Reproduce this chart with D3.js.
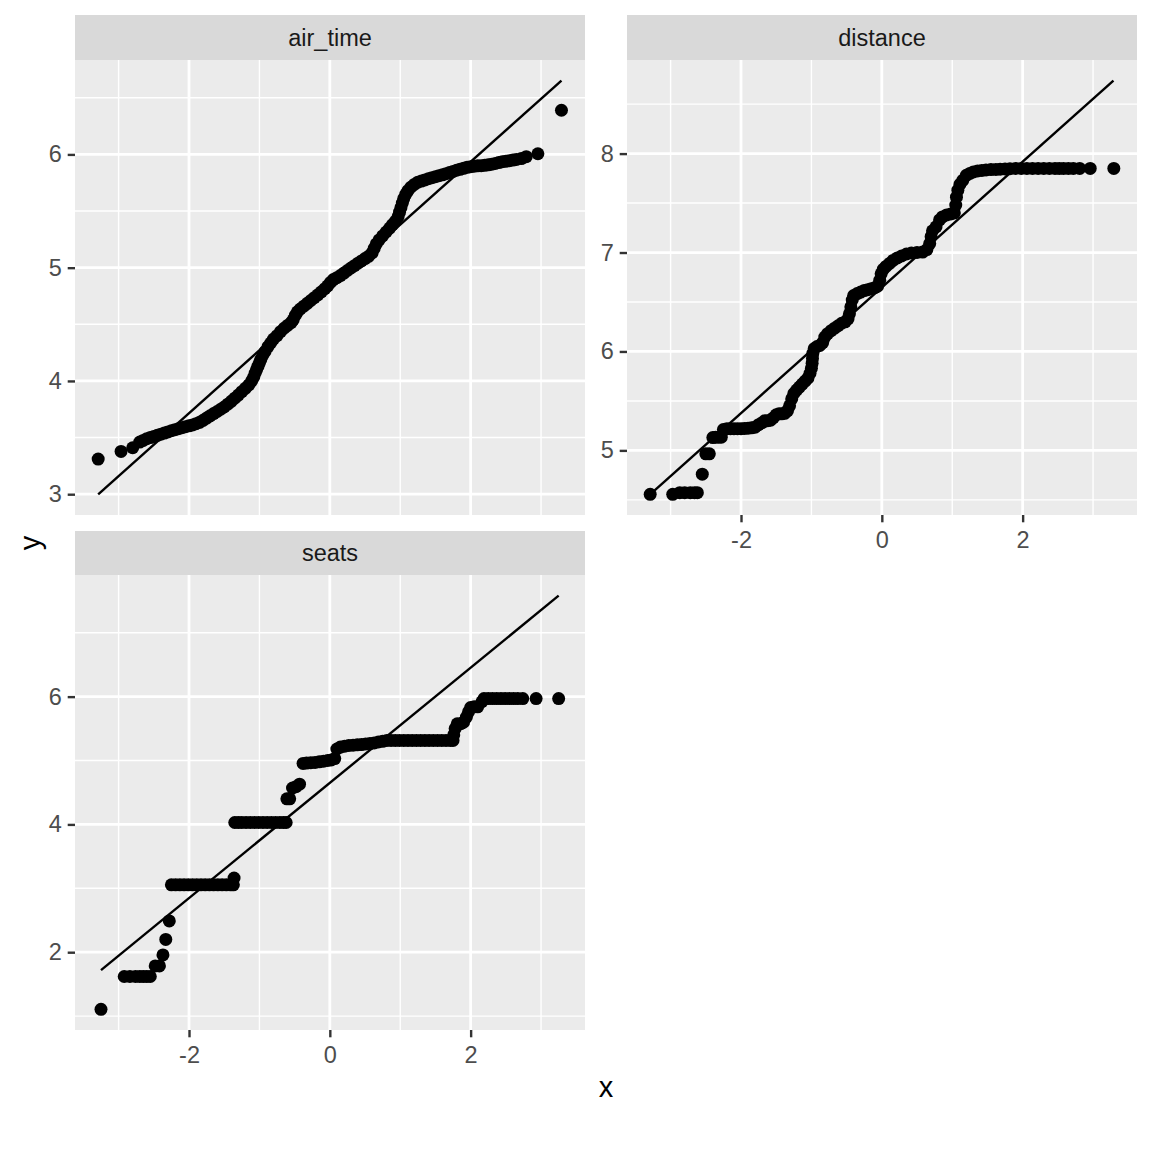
<!DOCTYPE html>
<html><head><meta charset="utf-8">
<script src="https://cdn.jsdelivr.net/npm/d3@7"></script>
<style>body{margin:0;background:#fff} svg{display:block}</style>
</head><body><svg id="chart" width="1152" height="1152"></svg>
<script>
// ---------------- DATA ----------------
const facetNames = ["air_time", "distance", "seats"];

// air_time: theoretical quantile (x) and sample value (y)
const airTimeQ = [-3.29,-2.965,-2.80,-2.70,-2.65,-2.60,-2.55,-2.50,-2.45,-2.40,-2.35,-2.30,-2.25,-2.20,-2.15,-2.10,-2.05,-2.00,-1.95,-1.90,-1.85,-1.80,-1.75,-1.70,-1.65,-1.60,-1.55,-1.50,-1.45,-1.40,-1.35,-1.30,-1.25,-1.20,-1.15,-1.11,-1.08,-1.06,-1.04,-1.02,-1.00,-0.98,-0.95,-0.92,-0.88,-0.84,-0.80,-0.75,-0.70,-0.65,-0.60,-0.55,-0.52,-0.49,-0.46,-0.42,-0.37,-0.32,-0.27,-0.22,-0.17,-0.12,-0.07,-0.03,0.01,0.05,0.10,0.15,0.20,0.25,0.30,0.35,0.40,0.45,0.50,0.55,0.60,0.63,0.66,0.70,0.75,0.80,0.85,0.89,0.93,0.97,0.99,1.01,1.03,1.05,1.08,1.11,1.15,1.20,1.25,1.30,1.35,1.40,1.45,1.50,1.55,1.60,1.65,1.70,1.75,1.80,1.85,1.90,1.95,2.00,2.05,2.10,2.15,2.20,2.25,2.30,2.35,2.40,2.45,2.50,2.55,2.60,2.65,2.72,2.79,2.955,3.29];
const airTimeV = [3.31,3.378,3.41,3.46,3.475,3.49,3.50,3.51,3.52,3.53,3.54,3.55,3.56,3.57,3.578,3.587,3.596,3.604,3.612,3.623,3.635,3.652,3.672,3.692,3.712,3.73,3.75,3.77,3.795,3.82,3.848,3.875,3.905,3.935,3.965,4.00,4.035,4.07,4.10,4.13,4.16,4.19,4.23,4.26,4.30,4.335,4.37,4.40,4.435,4.465,4.49,4.515,4.54,4.58,4.61,4.635,4.66,4.685,4.71,4.735,4.76,4.787,4.815,4.84,4.87,4.895,4.912,4.93,4.952,4.975,4.997,5.018,5.04,5.06,5.08,5.10,5.13,5.17,5.21,5.245,5.28,5.315,5.35,5.38,5.41,5.45,5.49,5.53,5.57,5.61,5.65,5.68,5.71,5.735,5.755,5.765,5.775,5.785,5.795,5.803,5.812,5.82,5.83,5.84,5.85,5.86,5.868,5.877,5.886,5.892,5.896,5.899,5.901,5.904,5.908,5.913,5.92,5.928,5.935,5.94,5.945,5.95,5.956,5.963,5.98,6.006,6.39];
const airTimeLineQ = [-3.29, 3.29];
const airTimeLineV = [2.999, 6.651];

// distance
const distanceQ = [-3.29,-2.97,-2.87,-2.80,-2.72,-2.66,-2.62,-2.55,-2.50,-2.45,-2.40,-2.36,-2.32,-2.28,-2.25,-2.20,-2.15,-2.10,-2.05,-2.00,-1.95,-1.90,-1.85,-1.80,-1.75,-1.70,-1.66,-1.62,-1.58,-1.54,-1.50,-1.46,-1.42,-1.38,-1.34,-1.31,-1.28,-1.25,-1.21,-1.17,-1.13,-1.09,-1.05,-1.02,-1.00,-0.99,-0.985,-0.98,-0.96,-0.92,-0.88,-0.84,-0.81,-0.77,-0.72,-0.67,-0.62,-0.57,-0.52,-0.48,-0.46,-0.44,-0.42,-0.40,-0.35,-0.30,-0.25,-0.20,-0.15,-0.10,-0.06,-0.03,-0.01,0.02,0.06,0.11,0.16,0.22,0.28,0.35,0.42,0.50,0.58,0.64,0.68,0.70,0.72,0.77,0.82,0.86,0.92,0.98,1.03,1.05,1.06,1.08,1.11,1.15,1.20,1.25,1.30,1.36,1.42,1.48,1.55,1.62,1.68,1.75,1.82,1.90,1.98,2.06,2.14,2.22,2.30,2.38,2.46,2.52,2.58,2.65,2.72,2.81,2.96,3.295];
const distanceV = [4.556,4.556,4.573,4.573,4.573,4.573,4.573,4.76,4.965,4.965,5.13,5.134,5.134,5.134,5.21,5.219,5.219,5.219,5.219,5.219,5.222,5.225,5.228,5.235,5.26,5.28,5.30,5.30,5.305,5.33,5.36,5.37,5.37,5.375,5.40,5.45,5.52,5.575,5.61,5.64,5.67,5.70,5.73,5.78,5.83,5.88,5.93,5.98,6.03,6.05,6.06,6.09,6.145,6.18,6.21,6.235,6.26,6.285,6.30,6.33,6.38,6.45,6.52,6.565,6.585,6.60,6.615,6.625,6.635,6.645,6.66,6.72,6.785,6.83,6.86,6.89,6.92,6.945,6.965,6.985,6.995,7.00,7.005,7.03,7.09,7.16,7.22,7.26,7.33,7.36,7.38,7.39,7.40,7.48,7.56,7.63,7.69,7.73,7.78,7.80,7.815,7.825,7.83,7.835,7.838,7.84,7.842,7.845,7.848,7.85,7.85,7.85,7.85,7.85,7.85,7.85,7.85,7.85,7.85,7.85,7.85,7.85,7.85,7.85,8.51];
const distanceLineQ = [-3.29, 3.29];
const distanceLineV = [4.556, 8.737];

// seats
const seatsQ = [-3.25,-2.92,-2.84,-2.76,-2.70,-2.65,-2.60,-2.55,-2.48,-2.42,-2.37,-2.33,-2.28,-2.25,-2.19,-2.13,-2.07,-2.01,-1.95,-1.89,-1.83,-1.77,-1.71,-1.65,-1.59,-1.53,-1.47,-1.41,-1.37,-1.36,-1.35,-1.30,-1.25,-1.19,-1.13,-1.07,-1.01,-0.95,-0.89,-0.83,-0.77,-0.71,-0.66,-0.62,-0.61,-0.57,-0.53,-0.48,-0.43,-0.38,-0.33,-0.27,-0.21,-0.15,-0.09,-0.03,0.02,0.07,0.10,0.15,0.21,0.27,0.33,0.39,0.45,0.51,0.57,0.63,0.69,0.75,0.81,0.87,0.93,0.99,1.05,1.11,1.17,1.23,1.29,1.35,1.41,1.47,1.53,1.59,1.65,1.71,1.75,1.76,1.78,1.81,1.86,1.90,1.94,1.97,2.00,2.05,2.10,2.16,2.19,2.25,2.31,2.37,2.43,2.49,2.55,2.61,2.67,2.74,2.93,3.25];
const seatsV = [1.106,1.62,1.62,1.62,1.62,1.62,1.62,1.62,1.785,1.785,1.958,2.20,2.49,3.055,3.055,3.055,3.055,3.055,3.055,3.055,3.055,3.055,3.055,3.055,3.055,3.055,3.055,3.055,3.055,3.16,4.03,4.03,4.03,4.03,4.03,4.03,4.03,4.03,4.03,4.03,4.03,4.03,4.03,4.03,4.40,4.40,4.57,4.59,4.63,4.955,4.96,4.965,4.97,4.98,4.99,5.00,5.01,5.03,5.18,5.21,5.225,5.235,5.24,5.245,5.25,5.26,5.265,5.275,5.29,5.30,5.315,5.315,5.315,5.315,5.315,5.315,5.315,5.315,5.315,5.315,5.315,5.315,5.315,5.315,5.315,5.315,5.315,5.40,5.50,5.576,5.576,5.60,5.68,5.76,5.83,5.84,5.84,5.92,5.97,5.97,5.97,5.97,5.97,5.97,5.97,5.97,5.97,5.97,5.97,5.97];
const seatsLineQ = [-3.25, 3.25];
const seatsLineV = [1.72, 7.58];

// tick labels
const xTicks = [-2, 0, 2];
const xMinorTicks = [-3, -1, 1, 3];
const airTimeTicks = [3, 4, 5, 6];
const airTimeMinor = [3.5, 4.5, 5.5, 6.5];
const distanceTicks = [5, 6, 7, 8];
const distanceMinor = [4.5, 5.5, 6.5, 7.5, 8.5];
const seatsTicks = [2, 4, 6];
const seatsMinor = [1, 3, 5, 7];

const xTitle = "x";
const yTitle = "y";

// ---------------- LAYOUT ----------------
const FONT = "'Liberation Sans', Arial, Helvetica, sans-serif";
const TICK_FS = 23.5, STRIP_FS = 23.5, TITLE_FS = 29;
const TICK_LEN = 7.3, TICK_PAD = 5.9, XTICK_PAD = 9.5;
const POINT_R = 6.5;
const panels = [
  {name: facetNames[0], q: airTimeQ, v: airTimeV, lq: airTimeLineQ, lv: airTimeLineV, ticks: airTimeTicks, minor: airTimeMinor,
   left: 75, right: 585, stripTop: 15, top: 60, bottom: 515, xAxis: false},
  {name: facetNames[1], q: distanceQ, v: distanceV, lq: distanceLineQ, lv: distanceLineV, ticks: distanceTicks, minor: distanceMinor,
   left: 627, right: 1137, stripTop: 15, top: 60, bottom: 515, xAxis: true},
  {name: facetNames[2], q: seatsQ, v: seatsV, lq: seatsLineQ, lv: seatsLineV, ticks: seatsTicks, minor: seatsMinor,
   left: 75, right: 585, stripTop: 531, top: 575, bottom: 1030, xAxis: true}
];

const fmt = d => String(d).replace("\u2212", "-");

const svg = d3.select("#chart");
svg.append("rect").attr("width", 1152).attr("height", 1152).attr("fill", "#fff");

function expand(ext) {
  const d = (ext[1] - ext[0]) * 0.05;
  return [ext[0] - d, ext[1] + d];
}
const allQ = panels.flatMap(p => p.q.concat(p.lq));
const xDomain = expand(d3.extent(allQ));

panels.forEach(p => {
  const x = d3.scaleLinear().domain(xDomain).range([p.left, p.right]);
  const y = d3.scaleLinear().domain(expand(d3.extent(p.v.concat(p.lv)))).range([p.bottom, p.top]);
  const g = svg.append("g");

  // panel background
  g.append("rect").attr("x", p.left).attr("y", p.top)
    .attr("width", p.right - p.left).attr("height", p.bottom - p.top).attr("fill", "#EBEBEB");

  // minor grid
  g.selectAll(".vminor").data(xMinorTicks).enter().append("line")
    .attr("x1", d => x(d)).attr("x2", d => x(d)).attr("y1", p.top).attr("y2", p.bottom)
    .attr("stroke", "#fff").attr("stroke-width", 1.4);
  g.selectAll(".hminor").data(p.minor.filter(d => d > y.domain()[0] && d < y.domain()[1])).enter().append("line")
    .attr("y1", d => y(d)).attr("y2", d => y(d)).attr("x1", p.left).attr("x2", p.right)
    .attr("stroke", "#fff").attr("stroke-width", 1.4);
  // major grid
  g.selectAll(".vmajor").data(xTicks).enter().append("line")
    .attr("x1", d => x(d)).attr("x2", d => x(d)).attr("y1", p.top).attr("y2", p.bottom)
    .attr("stroke", "#fff").attr("stroke-width", 2.8);
  g.selectAll(".hmajor").data(p.ticks).enter().append("line")
    .attr("y1", d => y(d)).attr("y2", d => y(d)).attr("x1", p.left).attr("x2", p.right)
    .attr("stroke", "#fff").attr("stroke-width", 2.8);

  // points
  const pts = p.q.map((q, i) => ({q: q, v: p.v[i]}));
  g.selectAll(".pt").data(pts).enter().append("circle")
    .attr("cx", d => x(d.q)).attr("cy", d => y(d.v)).attr("r", POINT_R).attr("fill", "#000");

  // qq line
  const lineData = p.lq.map((q, i) => [q, p.lv[i]]);
  g.append("path").datum(lineData)
    .attr("d", d3.line().x(d => x(d[0])).y(d => y(d[1])))
    .attr("fill", "none").attr("stroke", "#000").attr("stroke-width", 2.4);

  // strip
  g.append("rect").attr("x", p.left).attr("y", p.stripTop)
    .attr("width", p.right - p.left).attr("height", p.top - p.stripTop).attr("fill", "#D9D9D9");
  g.append("text").attr("x", (p.left + p.right) / 2).attr("y", (p.stripTop + p.top) / 2)
    .attr("text-anchor", "middle").attr("dominant-baseline", "central")
    .attr("font-family", FONT).attr("font-size", STRIP_FS).attr("fill", "#1A1A1A").text(p.name);

  // y axis
  const ya = g.append("g").attr("transform", `translate(${p.left},0)`)
    .call(d3.axisLeft(y).tickValues(p.ticks).tickSize(TICK_LEN).tickPadding(TICK_PAD).tickFormat(fmt));
  ya.select(".domain").remove();
  ya.selectAll(".tick line").attr("stroke", "#333333").attr("stroke-width", 2.4);
  ya.selectAll(".tick text").attr("font-family", FONT).attr("font-size", TICK_FS).attr("fill", "#4D4D4D");

  // x axis
  if (p.xAxis) {
    const xa = g.append("g").attr("transform", `translate(0,${p.bottom})`)
      .call(d3.axisBottom(x).tickValues(xTicks).tickSize(TICK_LEN).tickPadding(XTICK_PAD).tickFormat(fmt));
    xa.select(".domain").remove();
    xa.selectAll(".tick line").attr("stroke", "#333333").attr("stroke-width", 2.4);
    xa.selectAll(".tick text").attr("font-family", FONT).attr("font-size", TICK_FS).attr("fill", "#4D4D4D");
  }
});

// axis titles
svg.append("text").attr("x", 606).attr("y", 1087).attr("text-anchor", "middle")
  .attr("dominant-baseline", "central").attr("font-family", FONT).attr("font-size", TITLE_FS)
  .attr("fill", "#000").text(xTitle);
svg.append("text").attr("transform", "translate(30,543) rotate(-90)").attr("text-anchor", "middle")
  .attr("dominant-baseline", "central").attr("font-family", FONT).attr("font-size", TITLE_FS)
  .attr("fill", "#000").text(yTitle);
</script>
</body></html>
